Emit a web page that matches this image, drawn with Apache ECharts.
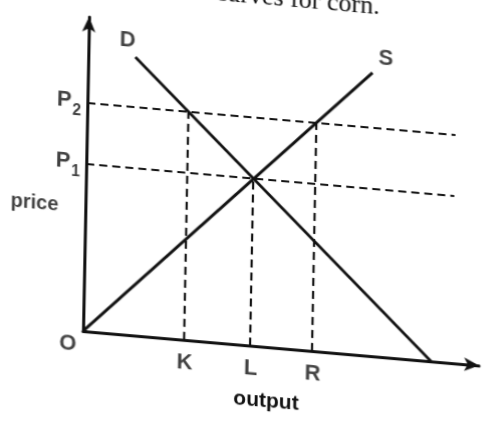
<!DOCTYPE html>
<html>
<head>
<meta charset="utf-8">
<script src="https://cdn.jsdelivr.net/npm/echarts@6/dist/echarts.min.js"></script>
<style>
html, body { margin: 0; padding: 0; background: #fff; overflow: hidden; }
/* the scan is a little skewed, so the whole chart is skewed the same way */
#main {
  position: absolute; left: 0; top: -40px; width: 486px; height: 468px;
  transform-origin: 83px 371px;
  transform: matrix(1, 0.087, -0.0193, 1, 0, 0);
}
</style>
</head>
<body>
<div id="main"></div>
<script>
// 需求曲线 D 和供给曲线 S
var demand = [[47, 278], [348, 0]];
var supply = [[0, 0], [284, 283]];
// 价格水平
var priceNames = ['P2', 'P1'];
var priceValues = [228, 167];
var priceLineEnd = 368;
// 产量
var outputNames = ['K', 'L', 'R'];
var outputValues = [101, 167, 229];
var outputTops = [228, 167, 228];

var ink = '#111';
var font = '"Liberation Sans", Arial, sans-serif';

var series = [];
series.push({
  name: 'D', type: 'line', data: demand, symbol: 'none', silent: true,
  lineStyle: { color: ink, width: 3 }
});
series.push({
  name: 'S', type: 'line', data: supply, symbol: 'none', silent: true,
  lineStyle: { color: ink, width: 3 }
});
// 虚线
for (var i = 0; i < priceValues.length; i++) {
  series.push({
    type: 'line', symbol: 'none', silent: true,
    data: [[0, priceValues[i]], [priceLineEnd, priceValues[i]]],
    lineStyle: { color: ink, width: 2.2, type: [8, 5] }
  });
}
for (var j = 0; j < outputValues.length; j++) {
  series.push({
    type: 'line', symbol: 'none', silent: true,
    data: [[outputValues[j], 0], [outputValues[j], outputTops[j]]],
    lineStyle: { color: ink, width: 2.2, type: [8, 5] }
  });
}

var baseLabel = { color: ink, fontFamily: font, fontWeight: 'bold', fontSize: 22 };

// 标注
series.push({
  type: 'scatter', symbolSize: 0, silent: true,
  data: priceNames.map(function (n, k) { return { name: n, value: [0, priceValues[k]] }; }),
  label: Object.assign({}, baseLabel, {
    show: true, position: 'left', distance: 6, offset: [0, -1],
    formatter: function (p) { return '{p|' + p.name.charAt(0) + '}{s|' + p.name.slice(1) + '}'; },
    rich: {
      p: { fontSize: 22, lineHeight: 22, verticalAlign: 'top', color: ink, fontFamily: font, fontWeight: 'bold' },
      s: { fontSize: 16, lineHeight: 16, verticalAlign: 'top', padding: [13, 0, 0, 1], color: ink, fontFamily: font, fontWeight: 'bold' }
    }
  })
});
series.push({
  type: 'scatter', symbolSize: 0, silent: true,
  data: outputNames.map(function (n, k) { return { name: n, value: [outputValues[k], 0] }; }),
  label: Object.assign({}, baseLabel, { show: true, position: 'inside', offset: [1, 23], formatter: '{b}' })
});
series.push({
  type: 'scatter', symbolSize: 0, silent: true,
  data: [
    { name: 'O', value: [0, 0], label: { offset: [-15, 14] } },
    { name: 'D', value: demand[0], label: { offset: [-8, -16] } },
    { name: 'S', value: supply[1], label: { offset: [13, -15] } }
  ],
  label: Object.assign({}, baseLabel, { show: true, position: 'inside', formatter: '{b}' })
});
// 纵轴名称
series.push({
  type: 'scatter', symbolSize: 0, silent: true,
  data: [{ name: 'price', value: [0, 124] }],
  label: Object.assign({}, baseLabel, { show: true, position: 'left', distance: 27, fontSize: 20, formatter: '{b}' })
});

var option = {
  backgroundColor: '#fff',
  animation: false,
  grid: { left: 83, top: 57, width: 396, height: 314 },
  graphic: [{
    type: 'text', x: 291, y: 35,
    style: {
      text: 'curves for corn.', fill: ink, font: '26px "Liberation Serif", "Times New Roman", serif',
      textAlign: 'center', textVerticalAlign: 'bottom'
    }
  }],
  xAxis: {
    type: 'value', min: 0, max: 396,
    name: 'output', nameLocation: 'middle', nameGap: 44,
    nameTextStyle: { color: ink, fontFamily: font, fontWeight: 'bold', fontSize: 21, padding: [0, 28, 0, 0] },
    axisLine: { show: true, symbol: ['none', 'arrow'], symbolSize: [10, 15], lineStyle: { color: ink, width: 3 } },
    axisTick: { show: false }, axisLabel: { show: false }, splitLine: { show: false }
  },
  yAxis: {
    type: 'value', min: 0, max: 314,
    axisLine: { show: true, symbol: ['none', 'arrow'], symbolSize: [10, 15], lineStyle: { color: ink, width: 3 } },
    axisTick: { show: false }, axisLabel: { show: false }, splitLine: { show: false }
  },
  series: series
};

var myChart = echarts.init(document.getElementById('main'));
myChart.setOption(option);
</script>
</body>
</html>
